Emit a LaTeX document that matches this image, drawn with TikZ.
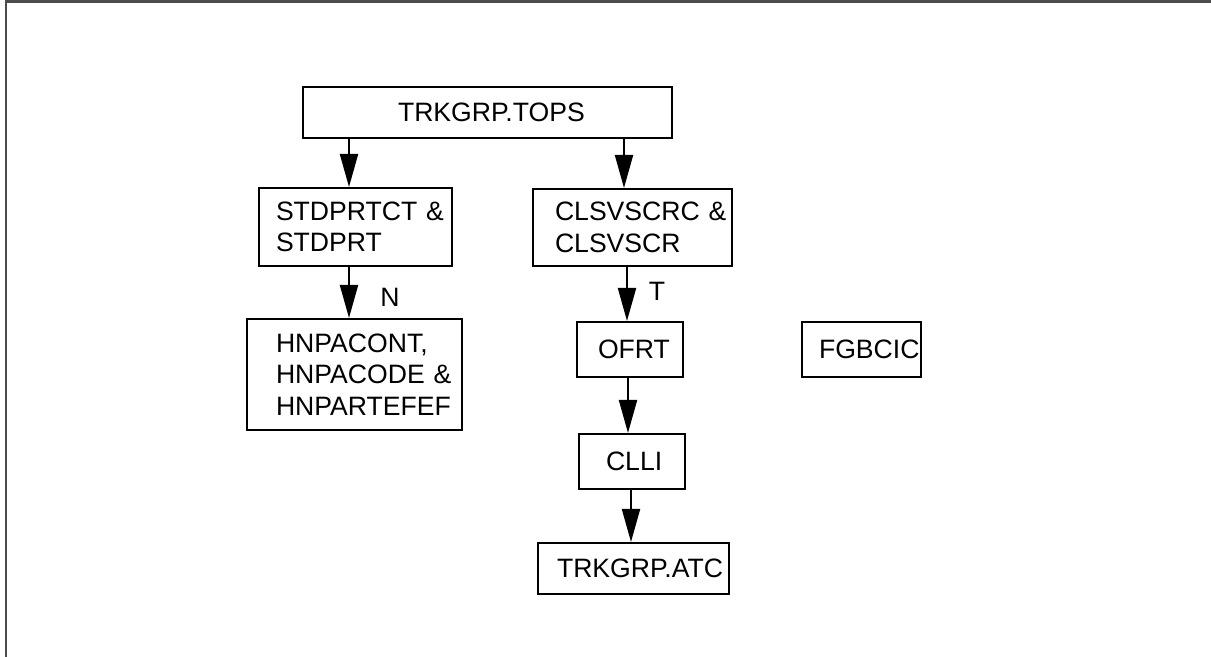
\documentclass[tikz,border=0pt]{standalone}
\usepackage{fontspec}
\setmainfont{Liberation Sans}
\usepackage{tikz}
\usetikzlibrary{arrows.meta,positioning}

\begin{document}
\begin{tikzpicture}[
  x=0.5pt, y=-0.5pt,
  font=\fontsize{13.3pt}{15.8pt}\selectfont,
  arr/.style={-{Triangle[length=16.5pt,width=9pt]}, line width=1pt},
  tbl/.style={draw, line width=1pt, align=left, inner ysep=0pt},
  lbl/.style={inner sep=0pt},
]
\useasboundingbox (0,0) rectangle (1211,657);
% page frame
\draw[black!70, line width=1.25pt] (5,1.5) -- (1211,1.5);
\draw[black!70, line width=1.25pt] (6,0) -- (6,657);

\node[tbl, inner xsep=47.5pt, text width=89.5pt, minimum height=25.5pt] (tops) at (487.5,112.5) {TRKGRP.TOPS};
\node[tbl, inner xsep=8.5pt, text width=79.5pt, minimum height=39pt] (stdprt) at (355.5,227) {STDPRTCT~\&\\STDPRT};
\node[tbl, inner xsep=11pt, text width=77.5pt, minimum height=38.5pt] (clsvscr) at (632.5,227.5) {CLSVSCRC~\&\\CLSVSCR};
\node[tbl, inner xsep=14.5pt, text width=78.5pt, minimum height=55.5pt] (hnpa) at (354.5,374.5) {HNPACONT,\\HNPACODE~\&\\HNPARTEFEF};
\node[tbl, inner xsep=10.5pt, text width=32pt, minimum height=27.5pt] (ofrt) at (630,349.5) {OFRT};
\node[tbl, inner xsep=13.5pt, text width=26pt, minimum height=27.5pt] (clli) at (632,461.5) {CLLI};
\node[tbl, inner xsep=9.5pt, text width=76.5pt, minimum height=25.5pt] (atc) at (633.5,568.5) {TRKGRP.ATC};
\node[tbl, inner xsep=8.5pt, text width=42.5pt, minimum height=27.5pt] (fgbcic) at (861.5,349.5) {FGBCIC};

\draw[arr] (tops.south -| 349,0) -- (stdprt.north -| 349,0);
\draw[arr] (tops.south -| 624,0) -- (clsvscr.north -| 624,0);
\draw[arr] (stdprt.south -| 349,0) -- node[lbl, pos=0.6, xshift=20.5pt] (lbln) {N} (hnpa.north -| 349,0);
\draw[arr] (clsvscr.south -| 627,0) -- node[lbl, pos=0.46, xshift=15pt] (lblt) {T} (ofrt.north -| 627,0);
\draw[arr] (ofrt.south -| 628,0) -- (clli.north -| 628,0);
\draw[arr] (clli.south -| 631,0) -- (atc.north -| 631,0);
\end{tikzpicture}
\end{document}
